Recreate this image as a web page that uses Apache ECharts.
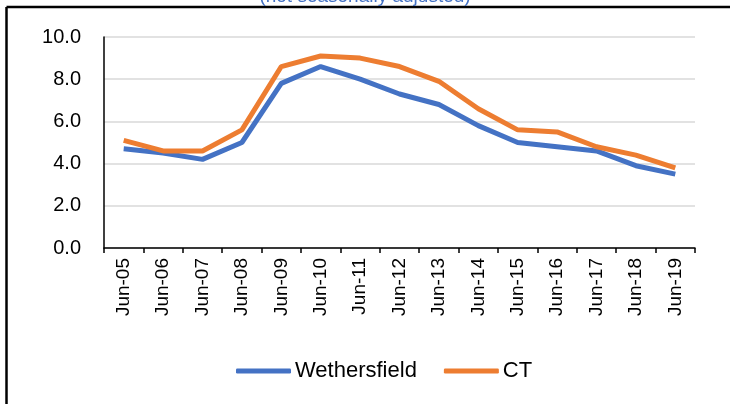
<!DOCTYPE html>
<html>
<head>
<meta charset="utf-8">
<script src="https://cdn.jsdelivr.net/npm/echarts@6/dist/echarts.min.js"></script>
<style>html,body{margin:0;padding:0;background:#fff;}#c{width:730px;height:404px;}</style>
</head>
<body>
<div id="c"></div>
<script>
var categories = ['Jun-05','Jun-06','Jun-07','Jun-08','Jun-09','Jun-10','Jun-11','Jun-12','Jun-13','Jun-14','Jun-15','Jun-16','Jun-17','Jun-18','Jun-19'];
var wethersfield = [4.7, 4.5, 4.2, 5.0, 7.8, 8.6, 8.0, 7.3, 6.8, 5.8, 5.0, 4.8, 4.6, 3.9, 3.5];
var ct = [5.1, 4.6, 4.6, 5.6, 8.6, 9.1, 9.0, 8.6, 7.9, 6.6, 5.6, 5.5, 4.8, 4.4, 3.8];
var seriesNames = ['Wethersfield', 'CT'];
var subtitle = '(not seasonally adjusted)';

var font = '"Liberation Sans", Arial, sans-serif';
var chart = echarts.init(document.getElementById('c'));
chart.setOption({
  animation: false,
  title: {
    text: subtitle,
    left: 'center',
    top: -18,
    textStyle: {color: '#4472C4', fontSize: 19, fontWeight: 'normal', fontFamily: font}
  },
  graphic: [
    {type: 'line', shape: {x1: 6.5, y1: 7, x2: 730, y2: 7}, style: {stroke: '#000', lineWidth: 2.5}},
    {type: 'line', shape: {x1: 6.5, y1: 7, x2: 6.5, y2: 404}, style: {stroke: '#000', lineWidth: 2.5}}
  ],
  legend: {
    data: seriesNames,
    left: 231,
    top: 355,
    itemWidth: 55,
    itemHeight: 5,
    itemGap: 27,
    icon: 'roundRect',
    textStyle: {fontSize: 22, color: '#000', fontFamily: font, padding: [0, 0, 0, -1]}
  },
  grid: {left: 104, right: 35, top: 37, bottom: 156},
  xAxis: {
    type: 'category',
    data: categories,
    boundaryGap: true,
    axisLine: {lineStyle: {color: '#000', width: 1.5}},
    axisTick: {show: true, length: 5, lineStyle: {color: '#000', width: 1.5}},
    axisLabel: {rotate: 90, fontSize: 19, color: '#000', fontFamily: font, margin: 10, interval: 0}
  },
  yAxis: {
    type: 'value',
    min: 0, max: 10, interval: 2,
    axisLine: {show: true, lineStyle: {color: '#000', width: 1.5}},
    axisTick: {show: false},
    splitLine: {lineStyle: {color: '#d9d9d9', width: 1.5}},
    axisLabel: {fontSize: 20, color: '#000', fontFamily: font, margin: 23, formatter: function (v) { return v.toFixed(1); }}
  },
  series: [
    {name: seriesNames[0], type: 'line', data: wethersfield, showSymbol: false, symbol: 'none',
     lineStyle: {color: '#4472C4', width: 5}, itemStyle: {color: '#4472C4'}},
    {name: seriesNames[1], type: 'line', data: ct, showSymbol: false, symbol: 'none',
     lineStyle: {color: '#ED7D31', width: 5}, itemStyle: {color: '#ED7D31'}}
  ]
});
</script>
</body>
</html>
